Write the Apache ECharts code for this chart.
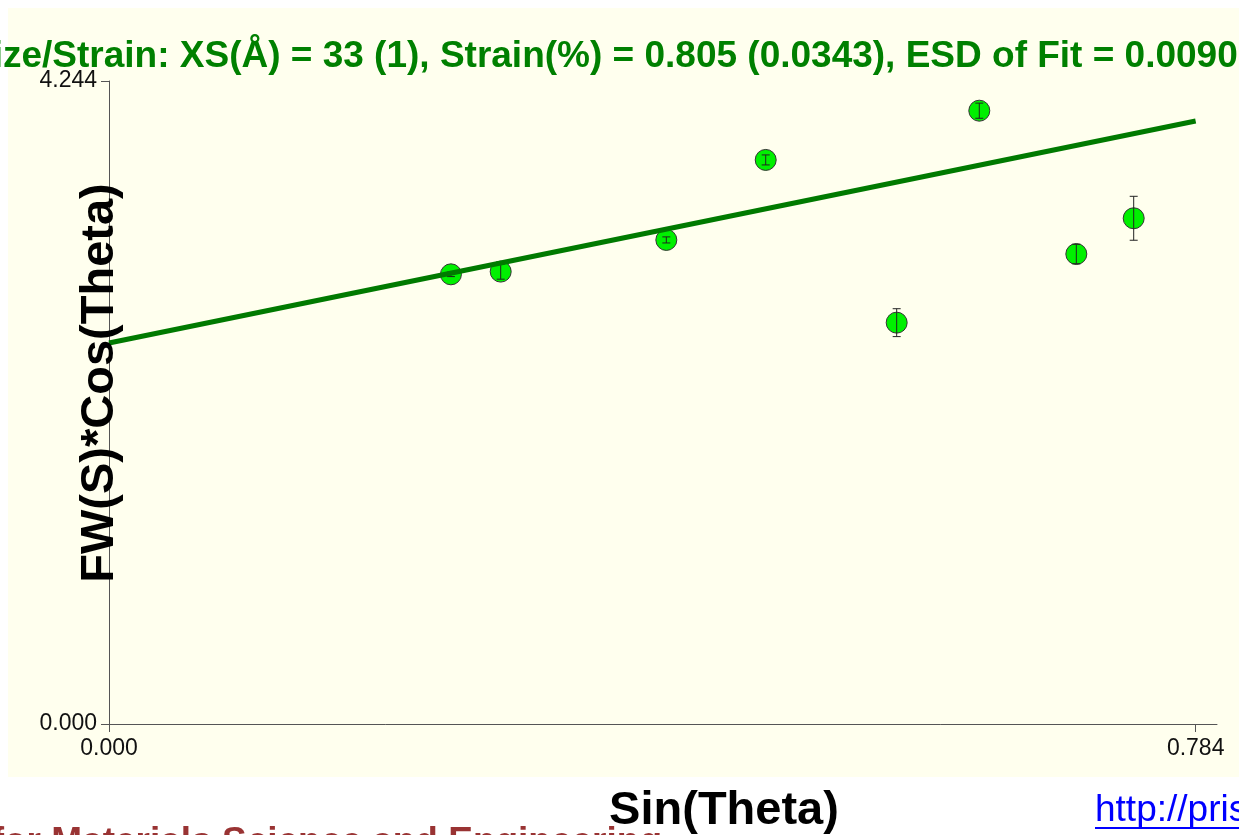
<!DOCTYPE html>
<html>
<head>
<meta charset="utf-8">
<title>Size/Strain Plot</title>
<script src="https://cdn.jsdelivr.net/npm/echarts@6/dist/echarts.min.js"></script>
<style>
  html, body { margin: 0; padding: 0; background: #ffffff; }
  #chart { width: 1239px; height: 835px; }
</style>
</head>
<body>
<div id="chart"></div>
<script>
// Williamson-Hall style data: Sin(Theta) vs FW(S)*Cos(Theta)
const sinTheta = [0.2467, 0.2826, 0.4021, 0.4738, 0.5683, 0.6279, 0.6979, 0.7393];
const fwCos    = [2.968, 2.986, 3.195, 3.723, 2.649, 4.048, 3.102, 3.338];
const fwCosEsd = [0.015, 0.050, 0.020, 0.033, 0.092, 0.050, 0.064, 0.145];

// Least-squares fit line end points
const fitX = [0, 0.784];
const fitY = [2.515, 3.980];

// Axis tick values
const xTicks = [0, 0.784];
const yTicks = [0, 4.244];

const titleText = 'Size/Strain: XS(Å) = 33 (1), Strain(%) = 0.805 (0.0343), ESD of Fit = 0.0090';
const xName = 'Sin(Theta)';
const yName = 'FW(S)*Cos(Theta)';
const footerText = 'MIT Center for Materials Science and Engineering';
const urlText = 'http://prism.mit.edu/xray';

const points = sinTheta.map((x, i) => [x, fwCos[i]]);
const errData = sinTheta.map((x, i) => [x, fwCos[i], fwCosEsd[i]]);
const fitData = fitX.map((x, i) => [x, fitY[i]]);

const chart = echarts.init(document.getElementById('chart'), null, { renderer: 'canvas' });

const tickFont = { fontFamily: 'Liberation Sans', fontSize: 23, color: '#111111' };

const option = {
  animation: false,
  backgroundColor: '#ffffff',
  grid: { left: 109, top: 81, right: 22, bottom: 111, containLabel: false },
  xAxis: {
    type: 'value',
    min: 0,
    max: 0.7994,
    axisLine: { show: true, lineStyle: { color: '#555555', width: 1 } },
    axisTick: { show: true, customValues: xTicks, length: 8, lineStyle: { color: '#555555', width: 1 } },
    axisLabel: Object.assign({ customValues: xTicks, margin: 13, formatter: v => v.toFixed(3) }, tickFont),
    splitLine: { show: false }
  },
  yAxis: {
    type: 'value',
    min: 0,
    max: 4.244,
    axisLine: { show: true, lineStyle: { color: '#555555', width: 1 } },
    axisTick: { show: true, customValues: yTicks, length: 8, lineStyle: { color: '#555555', width: 1 } },
    axisLabel: Object.assign({ customValues: yTicks, margin: 12, formatter: v => v.toFixed(3) }, tickFont),
    splitLine: { show: false }
  },
  graphic: [
    {
      type: 'rect', z: -1, silent: true,
      shape: { x: 8, y: 8, width: 1240, height: 769 },
      style: { fill: '#ffffee' }
    },
    {
      type: 'text', z: 100, x: -32, y: 57,
      style: {
        text: titleText, fill: '#008000',
        font: 'bold 37px "Liberation Sans"',
        textAlign: 'left', textVerticalAlign: 'middle'
      }
    },
    {
      type: 'text', z: 100, x: 100, y: 383, rotation: Math.PI / 2,
      style: {
        text: yName, fill: '#000000',
        font: 'bold 47px "Liberation Sans"',
        textAlign: 'center', textVerticalAlign: 'middle'
      }
    },
    {
      type: 'text', z: 90, x: 662, y: 843,
      style: {
        text: footerText, fill: '#993333',
        font: 'bold 37px "Liberation Sans"',
        textAlign: 'right', textVerticalAlign: 'middle'
      }
    },
    {
      type: 'text', z: 100, x: 724, y: 811,
      style: {
        text: xName, fill: '#000000',
        font: 'bold 47px "Liberation Sans"',
        textAlign: 'center', textVerticalAlign: 'middle'
      }
    },
    {
      type: 'text', z: 100, x: 1095, y: 811,
      style: {
        text: urlText, fill: '#0000ff',
        font: '37px "Liberation Sans"',
        textAlign: 'left', textVerticalAlign: 'middle'
      }
    },
    {
      type: 'line', z: 100,
      shape: { x1: 1095, y1: 828, x2: 1239, y2: 828 },
      style: { stroke: '#0000ff', lineWidth: 2 }
    }
  ],
  series: [
    {
      name: 'Observed',
      type: 'scatter',
      data: points,
      symbol: 'circle',
      symbolSize: 21,
      z: 2,
      itemStyle: { color: '#00f000', borderColor: '#333333', borderWidth: 1, opacity: 1 }
    },
    {
      name: 'ESD',
      type: 'custom',
      data: errData,
      encode: { x: 0, y: 1 },
      z: 3,
      renderItem: function (params, api) {
        const x = api.value(0), y = api.value(1), e = api.value(2);
        const top = api.coord([x, y + e]);
        const bot = api.coord([x, y - e]);
        const cap = 4;
        const style = { stroke: '#222222', lineWidth: 1 };
        return {
          type: 'group',
          children: [
            { type: 'line', shape: { x1: top[0], y1: top[1], x2: bot[0], y2: bot[1] }, style: style },
            { type: 'line', shape: { x1: top[0] - cap, y1: top[1], x2: top[0] + cap, y2: top[1] }, style: style },
            { type: 'line', shape: { x1: bot[0] - cap, y1: bot[1], x2: bot[0] + cap, y2: bot[1] }, style: style }
          ]
        };
      }
    },
    {
      name: 'Fit',
      type: 'line',
      data: fitData,
      showSymbol: false,
      z: 4,
      lineStyle: { color: '#007a00', width: 5 }
    }
  ]
};

chart.setOption(option);
</script>
</body>
</html>
